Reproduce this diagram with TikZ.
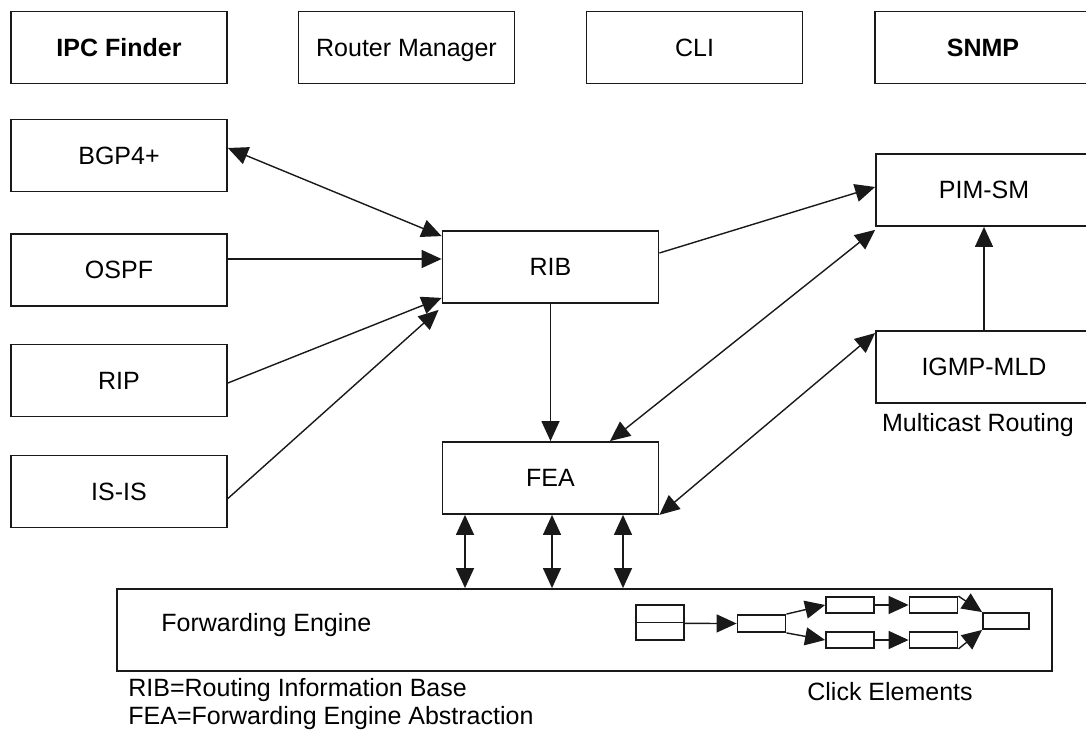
\documentclass[tikz,border=0pt]{standalone}
\usepackage{fontspec}
\setmainfont{Liberation Sans}
\usetikzlibrary{arrows.meta, calc}
\definecolor{linegray}{RGB}{25,25,25}
\tikzset{
  box/.style={rectangle, draw=linegray, line width=0.9pt, inner sep=0pt,
    minimum width=108pt, minimum height=36pt, text height=9pt, text depth=0pt,
    font=\fontsize{12.5}{15}\selectfont},
  boldbox/.style={box, font=\fontsize{12.5}{15}\selectfont\bfseries},
  clk/.style={rectangle, draw=linegray, line width=0.9pt, inner sep=0pt,
    minimum width=24pt, minimum height=8pt},
  lbl/.style={font=\fontsize{12.5}{15}\selectfont, inner sep=0pt},
  ar/.style={-{Triangle[length=10pt, width=9pt]}, line width=0.7pt, color=linegray},
  bar/.style={{Triangle[length=10pt, width=9pt]}-{Triangle[length=10pt, width=9pt]},
    line width=0.7pt, color=linegray},
}

\begin{document}
\begin{tikzpicture}[x=0.5pt, y=-0.5pt]
\useasboundingbox (0,0) rectangle (1086,731);
\clip (0,0) rectangle (1086,731);

% top row
\node[boldbox] (ipc) at (119,47.5) {IPC Finder};
\node[box] (rtrmgr) at (406.5,47.5) {Router Manager};
\node[box] (cli) at (694.5,47.5) {CLI};
\node[boldbox] (snmp) at (983,47.5) {SNMP};

% unicast routing
\node[box] (bgp) at (119,155.5) {BGP4+};
\node[box] (ospf) at (119,270) {OSPF};
\node[box] (rip) at (119,380.5) {RIP};
\node[box] (isis) at (119,491.5) {IS-IS};
\node[box] (rib) at (550.5,267) {RIB};
\node[box] (fea) at (550.5,478) {FEA};

% multicast routing
\node[box] (pim) at (984,190) {PIM-SM};
\node[box] (igmp) at (984,367) {IGMP-MLD};
\node[lbl] (mcast) at (978,425) {Multicast Routing};

% forwarding engine
\node[box, minimum width=467.5pt, minimum height=41pt] (fe) at (584.5,630) {};
\node[lbl, anchor=west] (fetxt) at (161,625) {Forwarding Engine};

% click elements
\node[clk, minimum height=8.75pt] (ck1a) at (660,613.75) {};
\node[clk, minimum height=8.75pt] (ck1b) at (660,631.25) {};
\node[clk, minimum height=8.5pt] (ck2) at (761.5,623.5) {};
\node[clk] (ck3a) at (850,605) {};
\node[clk] (ck3b) at (850,640) {};
\node[clk] (ck4a) at (933.5,605) {};
\node[clk] (ck4b) at (933.5,640) {};
\node[clk, minimum width=23pt] (ck5) at (1006,621) {};
\node[lbl] (clicktxt) at (890,692) {Click Elements};

% legend
\node[lbl, anchor=west] (leg1) at (128,690) {RIB=Routing Information Base};
\node[lbl, anchor=west] (leg2) at (128,718) {FEA=Forwarding Engine Abstraction};

% routing protocols to RIB
\draw[bar] ([yshift=3.75pt]bgp.east) -- ([yshift=-3pt]rib.north west);
\draw[ar] ([yshift=5.5pt]ospf.east) -- ([yshift=5.5pt]ospf.east -| rib.west);
\draw[ar] ([yshift=-1.25pt]rip.east) -- ([yshift=3pt]rib.south west);
\draw[ar] ([yshift=-3.5pt]isis.east) -- ([xshift=-1.5pt, yshift=-3pt]rib.south west);

% RIB, FEA and multicast
\draw[ar] ([yshift=7pt]rib.east) -- ([yshift=1.5pt]pim.west);
\draw[ar] (rib.south) -- (fea.north);
\draw[bar] ([yshift=-1.5pt]pim.south west) -- ([xshift=29.75pt]fea.north);
\draw[bar] ([yshift=-1.5pt]igmp.north west) -- (fea.south east);
\draw[ar] (igmp.north) -- (pim.south);

% FEA to forwarding engine
\foreach \dx in {-85.5, 1.5, 72.5} {
  \draw[bar] ($(fea.south)+(\dx,0)$) coordinate (t) -- (t |- fe.north);
}

% click graph
\draw[ar] (ck1a.south east) -- (ck2.west);
\draw[ar] (ck2.north east) -- (ck3a.west);
\draw[ar] (ck2.south east) -- (ck3b.west);
\draw[ar] (ck3a.east) -- (ck4a.west);
\draw[ar] (ck3b.east) -- (ck4b.west);
\draw[ar] (ck4a.north east) -- (ck5.north west);
\draw[ar] (ck4b.south east) -- (ck5.south west);
\end{tikzpicture}
\end{document}
